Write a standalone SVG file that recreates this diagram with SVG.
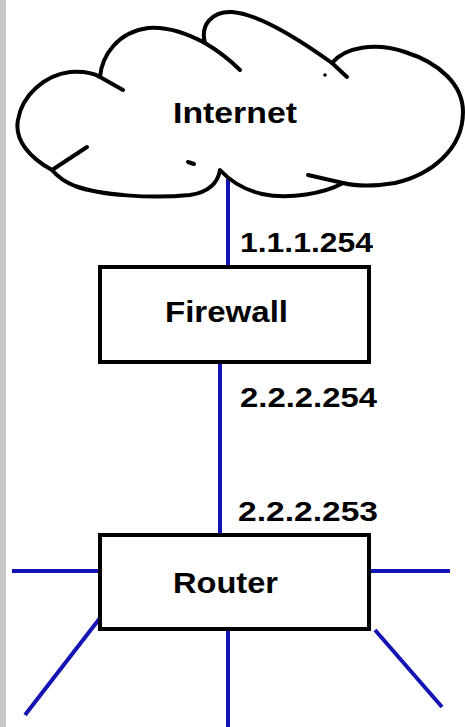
<svg xmlns="http://www.w3.org/2000/svg" width="465" height="727" viewBox="0 0 465 727">
  <style>
    .outline { fill: none; stroke: #000; stroke-width: 4; stroke-linecap: round; stroke-linejoin: round; }
    .box { fill: #fff; stroke: #000; stroke-width: 4; }
    .link { stroke: #1414b4; stroke-width: 4; fill: none; }
    .label { font-family: "Liberation Sans", Arial, sans-serif; font-weight: bold; fill: #000; }
  </style>

  <!-- page background with grey left margin -->
  <rect x="0" y="0" width="465" height="727" fill="#fff"/>
  <rect x="0" y="0" width="6" height="727" fill="#c8c8c8"/>

  <!-- connectors -->
  <g id="connectors">
    <line class="link" x1="228" y1="178" x2="228" y2="267"/>
    <line class="link" x1="220" y1="362" x2="220" y2="535"/>
    <line class="link" x1="12" y1="571" x2="100" y2="571"/>
    <line class="link" x1="369" y1="571" x2="450" y2="571"/>
    <line class="link" x1="100" y1="618" x2="25" y2="715"/>
    <line class="link" x1="228" y1="629" x2="228" y2="727"/>
    <line class="link" x1="375" y1="630" x2="442" y2="707"/>
  </g>

  <!-- cloud -->
  <g id="internet">
    <path fill="#fff" class="outline" d="M52,170 C30,158 14,140 18,120 C22,95 45,75 70,72 C85,71 95,74 100,77
      C102,55 118,32 148,28 C170,26 190,35 205,43
      C200,25 212,11 232,12 C260,14 300,40 332,63
      C345,47 375,42 405,52 C440,63 463,85 463,112 C463,150 430,175 395,183 C370,187 355,186 343,183
      C325,193 290,200 262,194 C245,190 232,183 220,170
      C218,182 210,192 190,195 C150,199 100,195 75,186 C65,182 57,176 52,170 Z"/>
    <path class="outline" d="M52,170 L87,147"/>
    <path class="outline" d="M100,77 L123,90"/>
    <path class="outline" d="M205,43 Q225,55 240,70"/>
    <path class="outline" d="M332,63 L347,77"/>
    <path class="outline" d="M343,183 L308,175"/>
    <path class="outline" stroke-width="3" d="M188,162 L194,164"/>
    <circle cx="325" cy="75" r="1.8" fill="#000"/>
    <text class="label" x="173" y="123" font-size="29" textLength="124" lengthAdjust="spacingAndGlyphs">Internet</text>
  </g>

  <!-- firewall -->
  <g id="firewall">
    <rect class="box" x="100" y="267" width="269" height="95"/>
    <text class="label" x="165" y="322" font-size="30" textLength="123" lengthAdjust="spacingAndGlyphs">Firewall</text>
  </g>

  <!-- router -->
  <g id="router">
    <rect class="box" x="100" y="535" width="269" height="94"/>
    <text class="label" x="173" y="593" font-size="29" textLength="105" lengthAdjust="spacingAndGlyphs">Router</text>
  </g>

  <!-- interface addresses -->
  <g id="addresses">
    <text class="label" x="240" y="252" font-size="27" textLength="133" lengthAdjust="spacingAndGlyphs">1.1.1.254</text>
    <text class="label" x="240" y="407" font-size="27" textLength="137" lengthAdjust="spacingAndGlyphs">2.2.2.254</text>
    <text class="label" x="238" y="521" font-size="27" textLength="140" lengthAdjust="spacingAndGlyphs">2.2.2.253</text>
  </g>
</svg>
